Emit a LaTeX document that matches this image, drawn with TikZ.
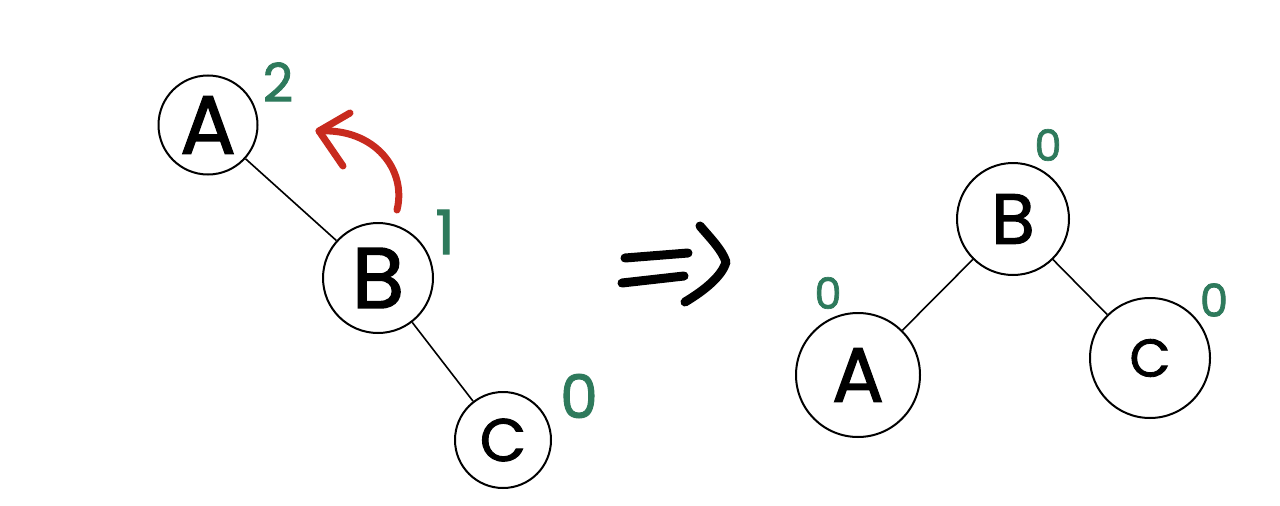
\documentclass[tikz,border=0pt]{standalone}
\usepackage{fontspec}
\setmainfont{Poppins}[UprightFeatures={FakeBold=1.6}]
\definecolor{lblgreen}{RGB}{46,122,92}
\definecolor{arrred}{RGB}{200,42,30}
\tikzset{
  treenode/.style={circle, draw, line width=2pt, minimum size=#1, inner sep=0pt},
  edge/.style={line width=1.6pt},
  lbl/.style={text=lblgreen, inner sep=0pt},
  pen/.style={line width=8pt, line cap=round, line join=round},
}
\newcommand{\fs}[1]{\fontsize{#1}{#1}\selectfont}
\begin{document}
\begin{tikzpicture}[x=1pt,y=-1pt]
\useasboundingbox (0,0) rectangle (1280,506);
% left tree
\node[treenode=99pt] (A1) at (208,125) {\fs{83}A};
\node[treenode=110pt] (B1) at (378,278) {\fs{86}B};
\node[treenode=96pt] (C1) at (503,440) {\fs{60}C};
\draw[edge] (A1) -- (B1);
\draw[edge] (B1) -- (C1);
\node[lbl] (lA1) at (278,82) {\fs{53}2};
\node[lbl] (lB1) at (445,232) {\fs{61}1};
\node[lbl] (lC1) at (579,396) {\fs{60}0};
% red rotation arrow
\coordinate (rs) at (397,210);
\coordinate (rt) at (319,131);
\draw[pen, arrred, line width=7pt] (rs) .. controls (407,170) and (375,128) .. (rt);
\draw[pen, arrred, line width=7pt] (350,113) -- (rt) -- (343,166);
% implication arrow
\draw[pen, line width=9pt] (625,258) -- (688,253);
\draw[pen, line width=9pt] (622,283) -- (684,276);
\draw[pen, line width=9pt] (700,226) .. controls (712,240) and (722,250) .. (726,262)
  .. controls (722,276) and (705,290) .. (685,302);
% right tree
\node[treenode=112pt] (B2) at (1013,219) {\fs{71}B};
\node[treenode=124pt] (A2) at (858,375) {\fs{77}A};
\node[treenode=120pt] (C2) at (1150,358) {\fs{53}C};
\draw[edge] (B2) -- (A2);
\draw[edge] (B2) -- (C2);
\node[lbl] (lB2) at (1048,145) {\fs{43}0};
\node[lbl] (lA2) at (828,293) {\fs{43}0};
\node[lbl] (lC2) at (1214,300) {\fs{45}0};
\end{tikzpicture}
\end{document}
